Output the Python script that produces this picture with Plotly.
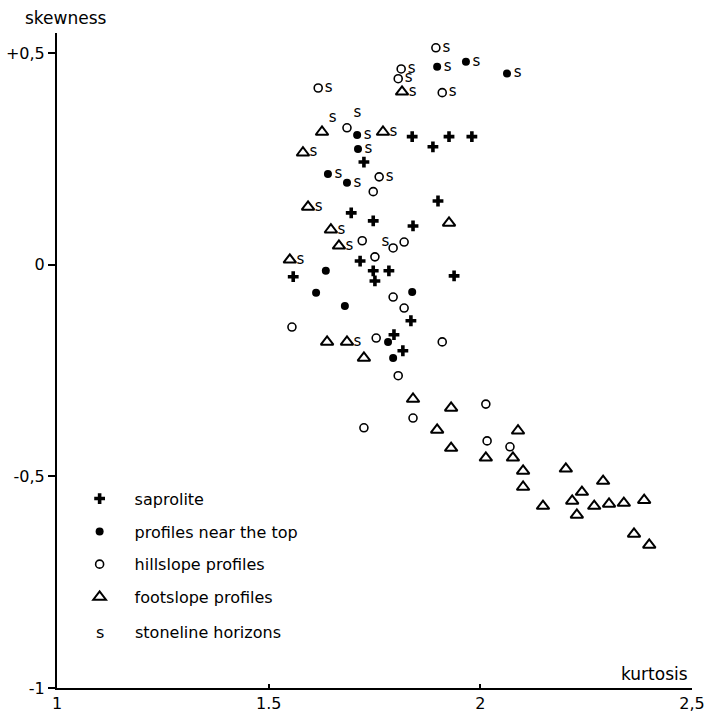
import plotly.graph_objects as go

FONT = "DejaVu Sans"

# saprolite (+)
sap_x = [1.839, 1.888, 1.926, 1.980, 1.725, 1.900, 1.695, 1.747, 1.841, 1.558,
         1.716, 1.747, 1.751, 1.784, 1.938, 1.836, 1.796, 1.817]
sap_y = [0.303, 0.279, 0.303, 0.303, 0.243, 0.151, 0.123, 0.104, 0.092, -0.028,
         0.009, -0.014, -0.038, -0.014, -0.026, -0.132, -0.165, -0.203]

# profiles near the top (filled circle); stoneline flag: 0 none, 1 "s" beside, 2 "s" raised
top_x = [1.898, 1.966, 2.063, 1.709, 1.711, 1.640, 1.685, 1.635, 1.612, 1.839,
         1.680, 1.782, 1.794]
top_y = [0.468, 0.480, 0.452, 0.307, 0.274, 0.215, 0.194, -0.014, -0.066, -0.064,
         -0.097, -0.182, -0.220]
top_s = [1, 1, 1, 1, 1, 1, 1, 0, 0, 0, 0, 0, 0]

# hillslope profiles (open circle)
hill_x = [1.895, 1.813, 1.806, 1.910, 1.617, 1.685, 1.761, 1.747, 1.721, 1.751,
          1.794, 1.820, 1.794, 1.820, 1.555, 1.754, 1.910, 1.806, 1.841, 1.725,
          2.013, 2.016, 2.070]
hill_y = [0.513, 0.463, 0.440, 0.407, 0.418, 0.324, 0.208, 0.173, 0.057, 0.019,
          0.040, 0.054, -0.076, -0.102, -0.147, -0.173, -0.182, -0.262, -0.362, -0.385,
          -0.329, -0.416, -0.430]
hill_s = [1, 1, 1, 1, 1, 2, 1, 0, 0, 2,
          0, 0, 0, 0, 0, 0, 0, 0, 0, 0,
          0, 0, 0]

# footslope profiles (triangle)
foot_x = [1.815, 1.626, 1.770, 1.581, 1.593, 1.926, 1.647, 1.666, 1.550, 1.638,
          1.685, 1.725, 1.841, 1.931, 1.898, 1.931, 2.089, 2.013, 2.077, 2.101,
          2.101, 2.202, 2.148, 2.290, 2.240, 2.217, 2.228, 2.269, 2.304, 2.339,
          2.387, 2.363, 2.399]
foot_y = [0.409, 0.314, 0.314, 0.265, 0.137, 0.099, 0.083, 0.045, 0.012, -0.182,
          -0.182, -0.220, -0.317, -0.338, -0.390, -0.433, -0.392, -0.456, -0.456, -0.487,
          -0.525, -0.482, -0.570, -0.511, -0.537, -0.558, -0.591, -0.570, -0.565, -0.563,
          -0.556, -0.636, -0.662]
foot_s = [1, 2, 1, 1, 1, 0, 1, 1, 1, 0,
          1, 0, 0, 0, 0, 0, 0, 0, 0, 0,
          0, 0, 0, 0, 0, 0, 0, 0, 0, 0,
          0, 0, 0]

x_ticks = [1, 1.5, 2, 2.5]
x_tick_labels = ["1", "1.5", "2", "2,5"]
y_ticks = [0.5, 0, -0.5, -1]
y_tick_labels = ["+0,5", "0", "-0,5", "-1"]

legend_names = ["saprolite", "profiles near the top", "hillslope profiles",
                "footslope profiles"]
stone_name = "stoneline horizons"

fig = go.Figure()

styles = [
    (sap_x, sap_y, None, dict(symbol="cross", size=9, color="black",
                              line=dict(width=0))),
    (top_x, top_y, top_s, dict(symbol="circle", size=8, color="black",
                               line=dict(width=0))),
    (hill_x, hill_y, hill_s, dict(symbol="circle-open", size=8, color="black",
                                  line=dict(width=1.6, color="black"))),
    (foot_x, foot_y, foot_s, dict(symbol="triangle-up-open", size=11, color="black",
                                  line=dict(width=2, color="black"))),
]

for i, (xs, ys, ss, mk) in enumerate(styles):
    fig.add_trace(go.Scatter(
        x=xs, y=ys, mode="markers", marker=mk, name=legend_names[i],
        legendgroup=str(i), showlegend=True, hoverinfo="skip"))

# stoneline "s" labels
pos_map = {1: "middle right", 2: "top right"}
for i, (xs, ys, ss, mk) in enumerate(styles):
    if ss is None:
        continue
    sx = [x for x, s in zip(xs, ss) if s]
    sy = [y for y, s in zip(ys, ss) if s]
    sp = [pos_map[s] for s in ss if s]
    fig.add_trace(go.Scatter(
        x=sx, y=sy, mode="markers+text", text=["s"] * len(sx),
        textposition=sp,
        textfont=dict(family=FONT, size=15, color="black"),
        marker=dict(size=9, opacity=0), showlegend=False, hoverinfo="skip"))

fig.update_layout(
    width=704, height=715,
    margin=dict(l=57, r=12, t=33, b=27),
    paper_bgcolor="white", plot_bgcolor="white",
    font=dict(family=FONT, size=16, color="black"),
    showlegend=True,
    legend=dict(x=0.012, y=0.315, xanchor="left", yanchor="top",
                bgcolor="rgba(0,0,0,0)", itemwidth=60,
                traceorder="grouped", tracegroupgap=9,
                font=dict(family=FONT, size=16, color="black")),
    xaxis=dict(range=[1, 2.5], tickmode="array", tickvals=x_ticks,
               ticktext=x_tick_labels, showgrid=False, zeroline=False,
               showline=True, linecolor="black", linewidth=2,
               ticks="inside", ticklen=4, tickwidth=2, tickcolor="black",
               automargin=False, ticklabeloverflow="allow",
               tickfont=dict(family=FONT, size=16)),
    yaxis=dict(range=[-1, 0.548], tickmode="array", tickvals=y_ticks,
               ticktext=y_tick_labels, showgrid=False, zeroline=False,
               showline=True, linecolor="black", linewidth=2,
               ticks="outside", ticklen=7, tickwidth=2, tickcolor="black",
               automargin=False, ticklabeloverflow="allow",
               tickfont=dict(family=FONT, size=16)),
    annotations=[
        dict(text="skewness", xref="paper", yref="paper", x=-0.0535, y=1.023,
             xanchor="left", yanchor="middle", showarrow=False,
             font=dict(family=FONT, size=17)),
        dict(text="kurtosis", xref="paper", yref="paper", x=0.997, y=0.022,
             xanchor="right", yanchor="middle", showarrow=False,
             font=dict(family=FONT, size=17)),
        dict(text="s", xref="paper", yref="paper", x=0.068, y=0.084,
             xanchor="center", yanchor="middle", showarrow=False,
             font=dict(family=FONT, size=16)),
        dict(text=stone_name, xref="paper", yref="paper", x=0.120, y=0.084,
             xanchor="left", yanchor="middle", showarrow=False,
             font=dict(family=FONT, size=16)),
    ],
)

fig.write_html(
    "out.html",
    config={"displayModeBar": False},
    post_script="document.body.style.margin='0px';document.body.style.overflow='hidden';",
)
